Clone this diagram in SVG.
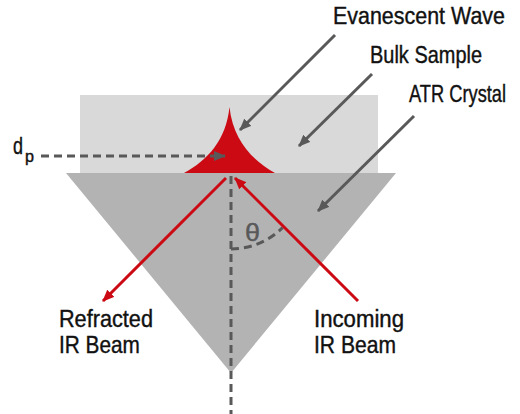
<svg xmlns="http://www.w3.org/2000/svg" width="520" height="414" viewBox="0 0 520 414">
<style>
.lbl{font-family:"Liberation Sans",Arial,sans-serif;font-size:24px;fill:#111;stroke:#111;stroke-width:0.4}
.nar{transform:scale(0.78,1)}
.gray{stroke:#595959;stroke-width:3;fill:none}
.dash{stroke:#595959;stroke-width:3;fill:none;stroke-dasharray:8 5}
.red{stroke:#cc0a14;stroke-width:3;fill:none}
</style>
<defs>
<marker id="ag" viewBox="0 0 12 10" refX="11" refY="5" markerWidth="12" markerHeight="10" markerUnits="userSpaceOnUse" orient="auto"><path d="M0,0 L12,5 L0,10 Z" fill="#595959"/></marker>
<marker id="ar" viewBox="0 0 12 10" refX="11" refY="5" markerWidth="12" markerHeight="10" markerUnits="userSpaceOnUse" orient="auto"><path d="M0,0 L12,5 L0,10 Z" fill="#cc0a14"/></marker>
</defs>
<g id="bulk-sample"><rect x="80" y="95" width="298" height="78" fill="#d9d9d9"/></g>
<g id="atr-crystal"><polygon points="66,173 396,173 231,373" fill="#b3b3b3"/></g>
<g id="evanescent-wave"><path d="M184,173 C208,160 226,140 229.5,107 C233,140 252,160 275,173 Z" fill="#cc0a14"/></g>
<g id="connectors">
<line class="dash" x1="231" y1="176" x2="231" y2="414"/>
<line class="dash" x1="41" y1="156" x2="225" y2="156" marker-end="url(#ag)"/>
<path class="dash" d="M231,249 A73,73 0 0 0 282.6,227.6"/>
<line class="red" x1="226" y1="178" x2="103" y2="301" marker-end="url(#ar)"/>
<line class="red" x1="358" y1="301" x2="235" y2="178" marker-end="url(#ar)"/>
<line class="gray" x1="335" y1="35" x2="240" y2="130" marker-end="url(#ag)"/>
<line class="gray" x1="372" y1="74" x2="299" y2="146" marker-end="url(#ag)"/>
<line class="gray" x1="414" y1="116" x2="318" y2="211" marker-end="url(#ag)"/>
</g>
<g id="labels">
<text class="lbl nar" x="426.9" y="24" textLength="220.5" lengthAdjust="spacingAndGlyphs">Evanescent Wave</text>
<text class="lbl nar" x="474.4" y="63" textLength="143.6" lengthAdjust="spacingAndGlyphs">Bulk Sample</text>
<text class="lbl nar" x="524.4" y="102" textLength="124.4" lengthAdjust="spacingAndGlyphs">ATR Crystal</text>
<text class="lbl nar" x="75.6" y="327" textLength="120.5" lengthAdjust="spacingAndGlyphs">Refracted</text>
<text class="lbl nar" x="75.6" y="353" textLength="103.8" lengthAdjust="spacingAndGlyphs">IR Beam</text>
<text class="lbl nar" x="402.6" y="327" textLength="115.4" lengthAdjust="spacingAndGlyphs">Incoming</text>
<text class="lbl nar" x="402.6" y="353" textLength="105.1" lengthAdjust="spacingAndGlyphs">IR Beam</text>
<text class="lbl" x="13" y="154" textLength="10" lengthAdjust="spacingAndGlyphs">d</text>
<text class="lbl" x="25" y="162" style="font-size:16px" textLength="9" lengthAdjust="spacingAndGlyphs">p</text>
<text class="lbl" x="245" y="241" style="fill:#595959;stroke:#595959" textLength="15" lengthAdjust="spacingAndGlyphs">θ</text>
</g>
</svg>
